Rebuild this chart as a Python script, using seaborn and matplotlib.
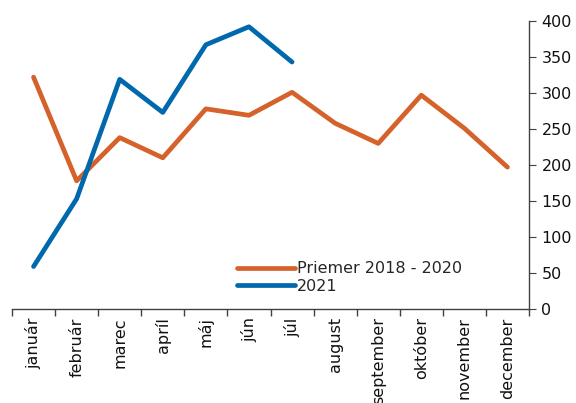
import matplotlib
matplotlib.use("Agg")
import matplotlib.pyplot as plt
import seaborn as sns
import pandas as pd
import numpy as np

months = ["január", "február", "marec", "apríl", "máj", "jún", "júl",
          "august", "september", "október", "november", "december"]
avg_2018_2020 = [322, 178, 238, 210, 278, 269, 301, 258, 230, 297, 251, 197]
y2021 = [59, 153, 319, 273, 367, 392, 343]
series_names = ["Priemer 2018 - 2020", "2021"]
yticks = [0, 50, 100, 150, 200, 250, 300, 350, 400]

sns.set_style("ticks")
plt.rcParams['font.family'] = ['DejaVu Sans']
plt.rcParams['lines.solid_capstyle'] = 'round'
plt.rcParams['lines.solid_joinstyle'] = 'round'

df = pd.concat([
    pd.DataFrame({"x": np.arange(len(avg_2018_2020)), "val": avg_2018_2020, "s": series_names[0]}),
    pd.DataFrame({"x": np.arange(len(y2021)), "val": y2021, "s": series_names[1]}),
])

fig = plt.figure(figsize=(5.76, 4.03), dpi=100)
ax = fig.add_axes([12/576, 1-309/403, 517/576, 288/403])
sns.lineplot(data=df, x="x", y="val", hue="s", palette=["#D5622A", "#0068AC"],
             linewidth=3.4, ax=ax, legend=True)

ax.set_xlim(-0.5, 11.5)
ax.set_ylim(0, 400)
ax.set_xlabel("")
ax.set_ylabel("")
for s in ["top", "left"]:
    ax.spines[s].set_visible(False)
for s in ["right", "bottom"]:
    ax.spines[s].set_visible(True)
    ax.spines[s].set_color("#404040")
    ax.spines[s].set_linewidth(1.0)
ax.yaxis.tick_right()
ax.set_yticks(yticks)
ax.tick_params(axis="y", which="both", right=True, left=False, direction="out", length=5,
               color="#404040", labelsize=11.5, pad=4, labelcolor="#111111")
ax.set_xticks(np.arange(12))
ax.set_xticklabels(months, rotation=90, fontsize=11.5, color="#111111")
ax.tick_params(axis="x", which="major", bottom=True, length=0, pad=6)
ax.set_xticks(np.arange(-0.5, 12, 1), minor=True)
ax.tick_params(axis="x", which="minor", bottom=True, length=5, width=1.0, color="#404040", direction="out")

handles, labels = ax.get_legend_handles_labels()
ax.legend(handles, labels, loc="lower left", bbox_to_anchor=(0.42, 0.025), frameon=False,
          fontsize=11.5, handlelength=3.6, handletextpad=0.15, labelspacing=0.15, borderpad=0)

fig.savefig("out.png", dpi=100)
